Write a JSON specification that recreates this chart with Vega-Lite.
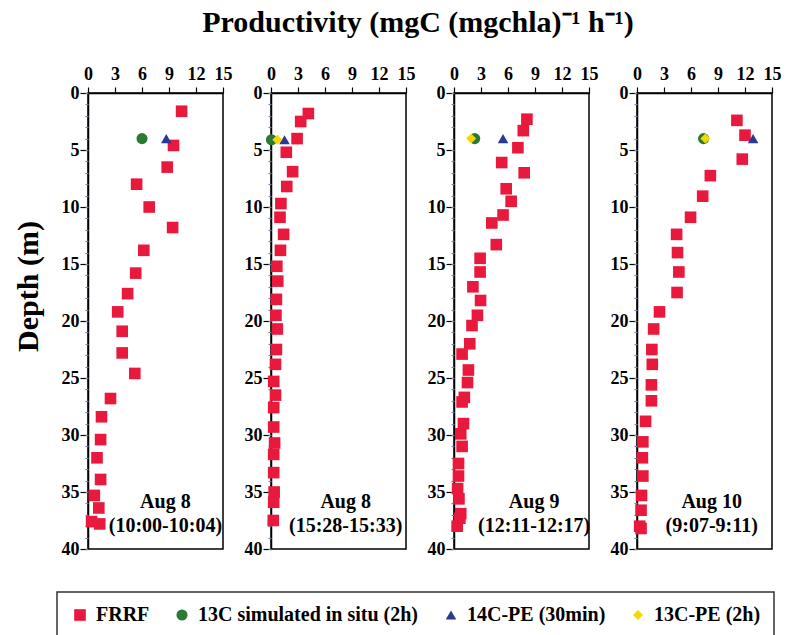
{
  "$schema": "https://vega.github.io/schema/vega-lite/v6.json",
  "padding": {"left": 12, "top": 8, "right": 6, "bottom": 4},
  "background": "white",
  "title": {"text": "Productivity (mgC (mgchla)\u207b\u00b9 h\u207b\u00b9)", "font": "Liberation Serif", "fontSize": 30, "fontWeight": "bold", "color": "black", "anchor": "middle", "offset": 26, "dx": 21},
  "datasets": {
    "pts": [
      {"panel": "A", "series": "FRRF", "prod": 10.4, "depth": 1.6},
      {"panel": "A", "series": "FRRF", "prod": 9.5, "depth": 4.6},
      {"panel": "A", "series": "FRRF", "prod": 8.8, "depth": 6.5},
      {"panel": "A", "series": "FRRF", "prod": 5.4, "depth": 8.0},
      {"panel": "A", "series": "FRRF", "prod": 6.8, "depth": 10.0},
      {"panel": "A", "series": "FRRF", "prod": 9.4, "depth": 11.8},
      {"panel": "A", "series": "FRRF", "prod": 6.2, "depth": 13.8},
      {"panel": "A", "series": "FRRF", "prod": 5.3, "depth": 15.8},
      {"panel": "A", "series": "FRRF", "prod": 4.4, "depth": 17.6},
      {"panel": "A", "series": "FRRF", "prod": 3.3, "depth": 19.2},
      {"panel": "A", "series": "FRRF", "prod": 3.8, "depth": 20.9},
      {"panel": "A", "series": "FRRF", "prod": 3.8, "depth": 22.8},
      {"panel": "A", "series": "FRRF", "prod": 5.2, "depth": 24.6},
      {"panel": "A", "series": "FRRF", "prod": 2.5, "depth": 26.8},
      {"panel": "A", "series": "FRRF", "prod": 1.5, "depth": 28.4},
      {"panel": "A", "series": "FRRF", "prod": 1.4, "depth": 30.4},
      {"panel": "A", "series": "FRRF", "prod": 1.0, "depth": 32.0},
      {"panel": "A", "series": "FRRF", "prod": 1.4, "depth": 33.9},
      {"panel": "A", "series": "FRRF", "prod": 0.7, "depth": 35.3},
      {"panel": "A", "series": "FRRF", "prod": 1.2, "depth": 36.4},
      {"panel": "A", "series": "FRRF", "prod": 0.4, "depth": 37.6},
      {"panel": "A", "series": "FRRF", "prod": 1.3, "depth": 37.8},
      {"panel": "A", "series": "13C simulated in situ (2h)", "prod": 6.0, "depth": 4.0},
      {"panel": "A", "series": "14C-PE (30min)", "prod": 8.7, "depth": 4.0},
      {"panel": "B", "series": "FRRF", "prod": 4.15, "depth": 1.8},
      {"panel": "B", "series": "FRRF", "prod": 3.3, "depth": 2.5},
      {"panel": "B", "series": "FRRF", "prod": 2.9, "depth": 4.0},
      {"panel": "B", "series": "FRRF", "prod": 1.7, "depth": 5.2},
      {"panel": "B", "series": "FRRF", "prod": 2.4, "depth": 6.9},
      {"panel": "B", "series": "FRRF", "prod": 1.75, "depth": 8.2},
      {"panel": "B", "series": "FRRF", "prod": 1.1, "depth": 9.7},
      {"panel": "B", "series": "FRRF", "prod": 1.0, "depth": 10.9},
      {"panel": "B", "series": "FRRF", "prod": 1.4, "depth": 12.4},
      {"panel": "B", "series": "FRRF", "prod": 1.05, "depth": 13.8},
      {"panel": "B", "series": "FRRF", "prod": 0.65, "depth": 15.2},
      {"panel": "B", "series": "FRRF", "prod": 0.75, "depth": 16.5},
      {"panel": "B", "series": "FRRF", "prod": 0.6, "depth": 18.1},
      {"panel": "B", "series": "FRRF", "prod": 0.55, "depth": 19.5},
      {"panel": "B", "series": "FRRF", "prod": 0.7, "depth": 20.7},
      {"panel": "B", "series": "FRRF", "prod": 0.6, "depth": 22.5},
      {"panel": "B", "series": "FRRF", "prod": 0.5, "depth": 23.8},
      {"panel": "B", "series": "FRRF", "prod": 0.3, "depth": 25.3},
      {"panel": "B", "series": "FRRF", "prod": 0.5, "depth": 26.5},
      {"panel": "B", "series": "FRRF", "prod": 0.3, "depth": 27.6},
      {"panel": "B", "series": "FRRF", "prod": 0.3, "depth": 29.3},
      {"panel": "B", "series": "FRRF", "prod": 0.4, "depth": 30.7},
      {"panel": "B", "series": "FRRF", "prod": 0.3, "depth": 31.7},
      {"panel": "B", "series": "FRRF", "prod": 0.3, "depth": 33.3},
      {"panel": "B", "series": "FRRF", "prod": 0.35, "depth": 35.0},
      {"panel": "B", "series": "FRRF", "prod": 0.3, "depth": 35.9},
      {"panel": "B", "series": "FRRF", "prod": 0.25, "depth": 37.5},
      {"panel": "B", "series": "13C simulated in situ (2h)", "prod": 0.05, "depth": 4.1},
      {"panel": "B", "series": "14C-PE (30min)", "prod": 1.5, "depth": 4.1},
      {"panel": "B", "series": "13C-PE (2h)", "prod": 0.7, "depth": 4.1},
      {"panel": "C", "series": "FRRF", "prod": 8.1, "depth": 2.3},
      {"panel": "C", "series": "FRRF", "prod": 7.7, "depth": 3.3},
      {"panel": "C", "series": "FRRF", "prod": 7.1, "depth": 4.8},
      {"panel": "C", "series": "FRRF", "prod": 5.3, "depth": 6.1},
      {"panel": "C", "series": "FRRF", "prod": 7.8, "depth": 7.0},
      {"panel": "C", "series": "FRRF", "prod": 5.8, "depth": 8.4},
      {"panel": "C", "series": "FRRF", "prod": 6.35, "depth": 9.5},
      {"panel": "C", "series": "FRRF", "prod": 5.45, "depth": 10.7},
      {"panel": "C", "series": "FRRF", "prod": 4.2, "depth": 11.4},
      {"panel": "C", "series": "FRRF", "prod": 4.7, "depth": 13.3},
      {"panel": "C", "series": "FRRF", "prod": 2.9, "depth": 14.5},
      {"panel": "C", "series": "FRRF", "prod": 2.9, "depth": 15.7},
      {"panel": "C", "series": "FRRF", "prod": 2.1, "depth": 17.0},
      {"panel": "C", "series": "FRRF", "prod": 2.95, "depth": 18.2},
      {"panel": "C", "series": "FRRF", "prod": 2.6, "depth": 19.5},
      {"panel": "C", "series": "FRRF", "prod": 2.0, "depth": 20.4},
      {"panel": "C", "series": "FRRF", "prod": 1.75, "depth": 22.0},
      {"panel": "C", "series": "FRRF", "prod": 0.9, "depth": 22.9},
      {"panel": "C", "series": "FRRF", "prod": 1.6, "depth": 24.3},
      {"panel": "C", "series": "FRRF", "prod": 1.5, "depth": 25.4},
      {"panel": "C", "series": "FRRF", "prod": 1.15, "depth": 26.7},
      {"panel": "C", "series": "FRRF", "prod": 0.9, "depth": 27.1},
      {"panel": "C", "series": "FRRF", "prod": 1.05, "depth": 29.0},
      {"panel": "C", "series": "FRRF", "prod": 0.75, "depth": 29.9},
      {"panel": "C", "series": "FRRF", "prod": 0.9, "depth": 31.0},
      {"panel": "C", "series": "FRRF", "prod": 0.5, "depth": 32.5},
      {"panel": "C", "series": "FRRF", "prod": 0.5, "depth": 33.6},
      {"panel": "C", "series": "FRRF", "prod": 0.4, "depth": 34.7},
      {"panel": "C", "series": "FRRF", "prod": 0.55, "depth": 35.6},
      {"panel": "C", "series": "FRRF", "prod": 0.75, "depth": 36.9},
      {"panel": "C", "series": "FRRF", "prod": 0.65, "depth": 37.3},
      {"panel": "C", "series": "FRRF", "prod": 0.35, "depth": 38.0},
      {"panel": "C", "series": "13C simulated in situ (2h)", "prod": 2.3, "depth": 4.0},
      {"panel": "C", "series": "14C-PE (30min)", "prod": 5.45, "depth": 4.0},
      {"panel": "C", "series": "13C-PE (2h)", "prod": 1.9, "depth": 4.0},
      {"panel": "D", "series": "FRRF", "prod": 11.1, "depth": 2.4},
      {"panel": "D", "series": "FRRF", "prod": 12.0, "depth": 3.7},
      {"panel": "D", "series": "FRRF", "prod": 11.7, "depth": 5.8},
      {"panel": "D", "series": "FRRF", "prod": 8.15, "depth": 7.25},
      {"panel": "D", "series": "FRRF", "prod": 7.3, "depth": 9.05},
      {"panel": "D", "series": "FRRF", "prod": 5.95, "depth": 10.9},
      {"panel": "D", "series": "FRRF", "prod": 4.4, "depth": 12.4},
      {"panel": "D", "series": "FRRF", "prod": 4.5, "depth": 14.0},
      {"panel": "D", "series": "FRRF", "prod": 4.65, "depth": 15.7},
      {"panel": "D", "series": "FRRF", "prod": 4.45, "depth": 17.5},
      {"panel": "D", "series": "FRRF", "prod": 2.5, "depth": 19.2},
      {"panel": "D", "series": "FRRF", "prod": 1.85, "depth": 20.7},
      {"panel": "D", "series": "FRRF", "prod": 1.65, "depth": 22.5},
      {"panel": "D", "series": "FRRF", "prod": 1.7, "depth": 23.8},
      {"panel": "D", "series": "FRRF", "prod": 1.6, "depth": 25.6},
      {"panel": "D", "series": "FRRF", "prod": 1.6, "depth": 27.0},
      {"panel": "D", "series": "FRRF", "prod": 0.95, "depth": 28.8},
      {"panel": "D", "series": "FRRF", "prod": 0.65, "depth": 30.6},
      {"panel": "D", "series": "FRRF", "prod": 0.6, "depth": 32.0},
      {"panel": "D", "series": "FRRF", "prod": 0.65, "depth": 33.6},
      {"panel": "D", "series": "FRRF", "prod": 0.5, "depth": 35.3},
      {"panel": "D", "series": "FRRF", "prod": 0.45, "depth": 36.6},
      {"panel": "D", "series": "FRRF", "prod": 0.3, "depth": 38.0},
      {"panel": "D", "series": "FRRF", "prod": 0.45, "depth": 38.2},
      {"panel": "D", "series": "13C simulated in situ (2h)", "prod": 7.4, "depth": 4.0},
      {"panel": "D", "series": "14C-PE (30min)", "prod": 12.9, "depth": 4.0},
      {"panel": "D", "series": "13C-PE (2h)", "prod": 7.6, "depth": 4.0}
    ],
    "ann": [
      {"panel": "A", "label": "Aug 8\n(10:00-10:04)", "prod": 8.6, "depth": 35.9},
      {"panel": "B", "label": "Aug 8\n(15:28-15:33)", "prod": 8.3, "depth": 35.9},
      {"panel": "C", "label": "Aug 9\n(12:11-12:17)", "prod": 8.9, "depth": 35.9},
      {"panel": "D", "label": "Aug 10\n(9:07-9:11)", "prod": 8.3, "depth": 35.9}
    ]
  },
  "bounds": "flush",
  "spacing": 48,
  "hconcat": [
    {
      "width": 135, "height": 456,
      "resolve": {"axis": {"y": "independent"}},
      "layer": [
        {
          "data": {"name": "pts"},
          "transform": [{"filter": "datum.panel == 'A'"}],
          "mark": {"type": "point", "filled": true, "opacity": 1},
          "encoding": {
            "x": {"field": "prod", "type": "quantitative", "scale": {"domain": [0, 15], "nice": false}, "axis": {"orient": "top", "values": [0, 3, 6, 9, 12, 15], "tickCount": 20, "tickSize": 6, "labelPadding": 4, "title": null, "labelFlush": false, "labelOverlap": false}},
            "y": {"field": "depth", "type": "quantitative", "scale": {"domain": [0, 40], "reverse": true, "nice": false}, "axis": {"orient": "left", "values": [0, 5, 10, 15, 20, 25, 30, 35, 40], "tickCount": 20, "tickSize": 8, "labelPadding": 1, "title": "Depth (m)", "titleFontSize": 30, "titlePadding": 18, "titleY": 193, "labelFlush": false, "labelOverlap": false}},
            "color": {"field": "series", "type": "nominal", "scale": {"domain": ["FRRF", "13C simulated in situ (2h)", "14C-PE (30min)", "13C-PE (2h)"], "range": ["#e8193c", "#2b7a33", "#2a3a94", "#f7d700"]}, "legend": {"orient": "none", "legendX": -31, "legendY": 499, "direction": "horizontal", "columns": 4, "title": null}},
            "shape": {"field": "series", "type": "nominal", "scale": {"domain": ["FRRF", "13C simulated in situ (2h)", "14C-PE (30min)", "13C-PE (2h)"], "range": ["square", "circle", "triangle-up", "diamond"]}, "legend": {"orient": "none", "legendX": -31, "legendY": 499, "direction": "horizontal", "columns": 4, "title": null}},
            "size": {"field": "series", "type": "nominal", "scale": {"domain": ["FRRF", "13C simulated in situ (2h)", "14C-PE (30min)", "13C-PE (2h)"], "range": [135, 100, 110, 100]}, "legend": null}
          }
        },
        {
          "data": {"name": "ann"},
          "transform": [{"filter": "datum.panel == 'A'"}],
          "mark": {"type": "text", "font": "Liberation Serif", "fontWeight": "bold", "fontSize": 20, "lineBreak": "\n", "lineHeight": 24, "baseline": "middle", "align": "center", "color": "black"},
          "encoding": {
            "x": {"field": "prod", "type": "quantitative"},
            "y": {"field": "depth", "type": "quantitative", "axis": {"orient": "left", "values": [0,1,2,3,4,5,6,7,8,9,10,11,12,13,14,15,16,17,18,19,20,21,22,23,24,25,26,27,28,29,30,31,32,33,34,35,36,37,38,39,40], "tickCount": 60, "labels": false, "domain": false, "tickSize": 3, "tickColor": "#6f84a8", "title": null}},
            "text": {"field": "label"}
          }
        }
      ]
    },
    {
      "width": 135, "height": 456,
      "resolve": {"axis": {"y": "independent"}},
      "layer": [
        {
          "data": {"name": "pts"},
          "transform": [{"filter": "datum.panel == 'B'"}],
          "mark": {"type": "point", "filled": true, "opacity": 1},
          "encoding": {
            "x": {"field": "prod", "type": "quantitative", "scale": {"domain": [0, 15], "nice": false}, "axis": {"orient": "top", "values": [0, 3, 6, 9, 12, 15], "tickCount": 20, "tickSize": 6, "labelPadding": 4, "title": null, "labelFlush": false, "labelOverlap": false}},
            "y": {"field": "depth", "type": "quantitative", "scale": {"domain": [0, 40], "reverse": true, "nice": false}, "axis": {"orient": "left", "values": [0, 5, 10, 15, 20, 25, 30, 35, 40], "tickCount": 20, "tickSize": 8, "labelPadding": 1, "title": null, "labelFlush": false, "labelOverlap": false}},
            "color": {"field": "series", "type": "nominal"},
            "shape": {"field": "series", "type": "nominal"},
            "size": {"field": "series", "type": "nominal", "legend": null}
          }
        },
        {
          "data": {"name": "ann"},
          "transform": [{"filter": "datum.panel == 'B'"}],
          "mark": {"type": "text", "font": "Liberation Serif", "fontWeight": "bold", "fontSize": 20, "lineBreak": "\n", "lineHeight": 24, "baseline": "middle", "align": "center", "color": "black"},
          "encoding": {
            "x": {"field": "prod", "type": "quantitative"},
            "y": {"field": "depth", "type": "quantitative", "axis": {"orient": "left", "values": [0,1,2,3,4,5,6,7,8,9,10,11,12,13,14,15,16,17,18,19,20,21,22,23,24,25,26,27,28,29,30,31,32,33,34,35,36,37,38,39,40], "tickCount": 60, "labels": false, "domain": false, "tickSize": 3, "tickColor": "#6f84a8", "title": null}},
            "text": {"field": "label"}
          }
        }
      ]
    },
    {
      "width": 135, "height": 456,
      "resolve": {"axis": {"y": "independent"}},
      "layer": [
        {
          "data": {"name": "pts"},
          "transform": [{"filter": "datum.panel == 'C'"}],
          "mark": {"type": "point", "filled": true, "opacity": 1},
          "encoding": {
            "x": {"field": "prod", "type": "quantitative", "scale": {"domain": [0, 15], "nice": false}, "axis": {"orient": "top", "values": [0, 3, 6, 9, 12, 15], "tickCount": 20, "tickSize": 6, "labelPadding": 4, "title": null, "labelFlush": false, "labelOverlap": false}},
            "y": {"field": "depth", "type": "quantitative", "scale": {"domain": [0, 40], "reverse": true, "nice": false}, "axis": {"orient": "left", "values": [0, 5, 10, 15, 20, 25, 30, 35, 40], "tickCount": 20, "tickSize": 8, "labelPadding": 1, "title": null, "labelFlush": false, "labelOverlap": false}},
            "color": {"field": "series", "type": "nominal"},
            "shape": {"field": "series", "type": "nominal"},
            "size": {"field": "series", "type": "nominal", "legend": null}
          }
        },
        {
          "data": {"name": "ann"},
          "transform": [{"filter": "datum.panel == 'C'"}],
          "mark": {"type": "text", "font": "Liberation Serif", "fontWeight": "bold", "fontSize": 20, "lineBreak": "\n", "lineHeight": 24, "baseline": "middle", "align": "center", "color": "black"},
          "encoding": {
            "x": {"field": "prod", "type": "quantitative"},
            "y": {"field": "depth", "type": "quantitative", "axis": {"orient": "left", "values": [0,1,2,3,4,5,6,7,8,9,10,11,12,13,14,15,16,17,18,19,20,21,22,23,24,25,26,27,28,29,30,31,32,33,34,35,36,37,38,39,40], "tickCount": 60, "labels": false, "domain": false, "tickSize": 3, "tickColor": "#6f84a8", "title": null}},
            "text": {"field": "label"}
          }
        }
      ]
    },
    {
      "width": 135, "height": 456,
      "resolve": {"axis": {"y": "independent"}},
      "layer": [
        {
          "data": {"name": "pts"},
          "transform": [{"filter": "datum.panel == 'D'"}],
          "mark": {"type": "point", "filled": true, "opacity": 1},
          "encoding": {
            "x": {"field": "prod", "type": "quantitative", "scale": {"domain": [0, 15], "nice": false}, "axis": {"orient": "top", "values": [0, 3, 6, 9, 12, 15], "tickCount": 20, "tickSize": 6, "labelPadding": 4, "title": null, "labelFlush": false, "labelOverlap": false}},
            "y": {"field": "depth", "type": "quantitative", "scale": {"domain": [0, 40], "reverse": true, "nice": false}, "axis": {"orient": "left", "values": [0, 5, 10, 15, 20, 25, 30, 35, 40], "tickCount": 20, "tickSize": 8, "labelPadding": 1, "title": null, "labelFlush": false, "labelOverlap": false}},
            "color": {"field": "series", "type": "nominal"},
            "shape": {"field": "series", "type": "nominal"},
            "size": {"field": "series", "type": "nominal", "legend": null}
          }
        },
        {
          "data": {"name": "ann"},
          "transform": [{"filter": "datum.panel == 'D'"}],
          "mark": {"type": "text", "font": "Liberation Serif", "fontWeight": "bold", "fontSize": 20, "lineBreak": "\n", "lineHeight": 24, "baseline": "middle", "align": "center", "color": "black"},
          "encoding": {
            "x": {"field": "prod", "type": "quantitative"},
            "y": {"field": "depth", "type": "quantitative", "axis": {"orient": "left", "values": [0,1,2,3,4,5,6,7,8,9,10,11,12,13,14,15,16,17,18,19,20,21,22,23,24,25,26,27,28,29,30,31,32,33,34,35,36,37,38,39,40], "tickCount": 60, "labels": false, "domain": false, "tickSize": 3, "tickColor": "#6f84a8", "title": null}},
            "text": {"field": "label"}
          }
        }
      ]
    }
  ],
  "config": {
    "font": "Liberation Serif",
    "view": {"stroke": "black", "strokeWidth": 1.5},
    "axis": {"labelFont": "Liberation Serif", "labelFontWeight": "bold", "labelFontSize": 18, "labelColor": "black", "domainColor": "black", "domainWidth": 1.5, "tickColor": "black", "tickWidth": 1.2, "grid": false, "titleFont": "Liberation Serif", "titleFontWeight": "bold", "titleColor": "black"},
    "legend": {"labelFont": "Liberation Serif", "labelFontWeight": "bold", "labelFontSize": 20, "labelColor": "black", "labelLimit": 0, "symbolSize": 64, "symbolStrokeWidth": 0, "labelOffset": 6, "columnPadding": 22, "padding": 13, "strokeColor": "#333333", "strokeWidth": 1.5, "fillColor": "white", "cornerRadius": 0}
  }
}
